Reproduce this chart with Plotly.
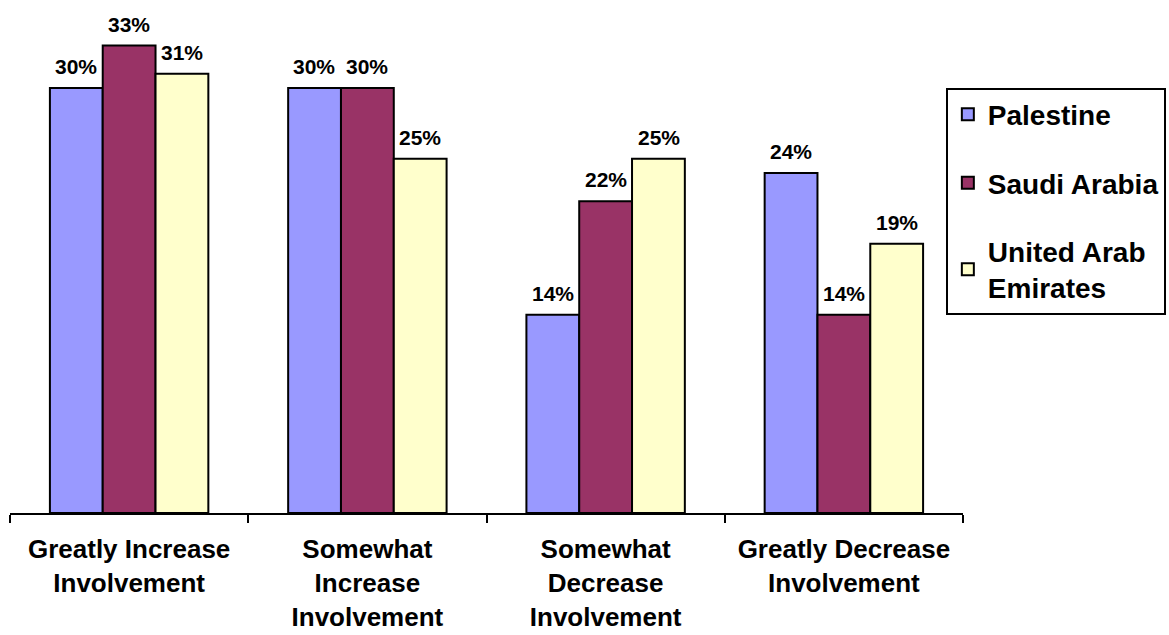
import plotly.graph_objects as go

categories = ["Greatly Increase<br>Involvement", "Somewhat<br>Increase<br>Involvement",
              "Somewhat<br>Decrease<br>Involvement", "Greatly Decrease<br>Involvement"]
series_names = ["Palestine", "Saudi Arabia", "United Arab<br>Emirates"]
palestine = [30, 30, 14, 24]
saudi = [33, 30, 22, 14]
uae = [31, 25, 25, 19]
colors = ["#9999FF", "#993366", "#FFFFCC"]

FONT = "Liberation Sans, Arial"
BARGAP = 0.335
PLOT_W = 1169 - 10 - 204
bar_px = PLOT_W / len(categories) * (1 - BARGAP) / len(series_names)

fig = go.Figure()
all_series = [palestine, saudi, uae]
for i, (name, vals, col) in enumerate(zip(series_names, all_series, colors)):
    fig.add_trace(go.Bar(
        x=categories, y=vals, name=name, legendgroup=str(i),
        marker=dict(color=col, line=dict(color="black", width=2)),
        cliponaxis=False,
    ))
    for c, v in zip(categories, vals):
        fig.add_annotation(
            x=c, y=v, xref="x", yref="y", text=f"{v}%", showarrow=False,
            xshift=(i - 1) * bar_px, yanchor="bottom", yshift=8,
            font=dict(family=FONT, size=21, color="black", weight="bold"),
        )

fig.update_layout(
    width=1169, height=635,
    margin=dict(l=10, r=204, t=3, b=120),
    plot_bgcolor="white", paper_bgcolor="white",
    barmode="group", bargap=BARGAP, bargroupgap=0,
    font=dict(family=FONT, color="black"),
    xaxis=dict(showline=True, linecolor="black", linewidth=2, ticks="outside",
               tickson="boundaries", ticklen=8, tickwidth=2, tickcolor="black",
               tickfont=dict(size=26, family=FONT, weight="bold"),
               ticklabelstandoff=12,
               showgrid=False),
    yaxis=dict(range=[0, 36], visible=False, showgrid=False),
    legend=dict(x=0.982, xanchor="left", y=0.834, yanchor="top", xref="paper",
                bordercolor="black", borderwidth=2, bgcolor="white",
                font=dict(size=28, family=FONT, weight="bold"),
                tracegroupgap=29, itemwidth=30),
)
fig.write_html("out.html")
